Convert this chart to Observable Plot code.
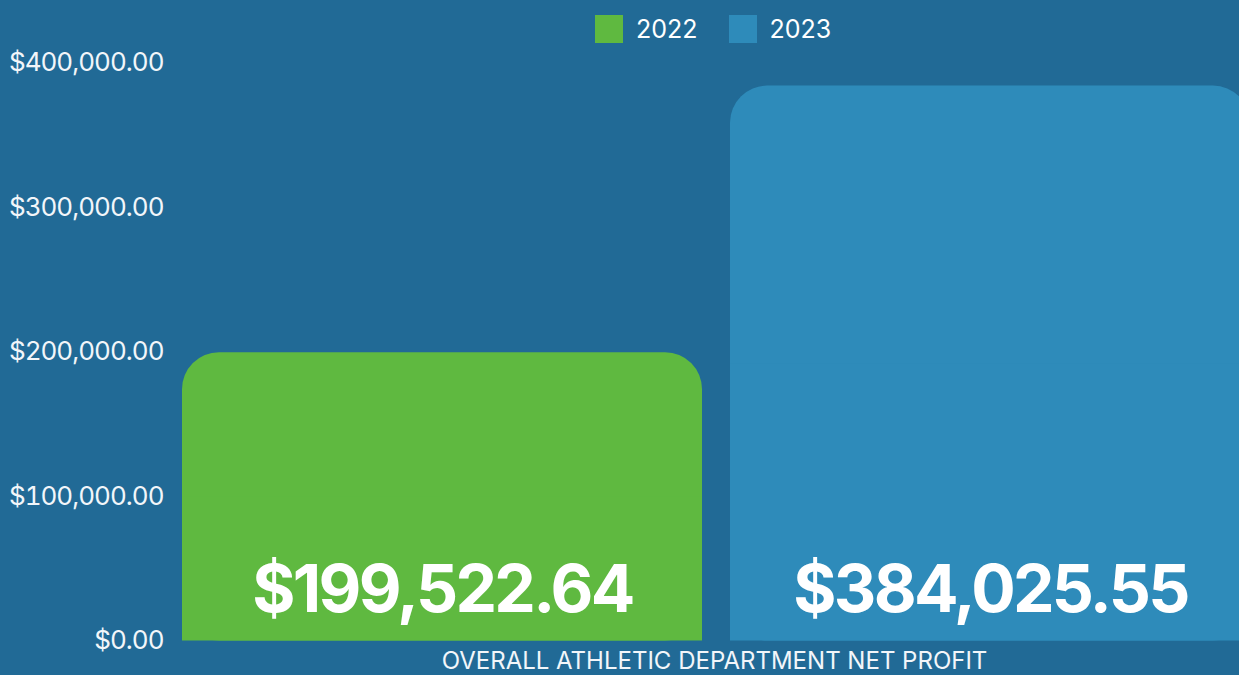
<!DOCTYPE html>
<html>
<head>
<meta charset="utf-8">
<script src="https://cdn.jsdelivr.net/npm/d3@7"></script>
<script src="https://cdn.jsdelivr.net/npm/@observablehq/plot@0.6"></script>
<style>
  html, body { margin: 0; padding: 0; overflow: hidden; }
  body { width: 1239px; height: 675px; background: #216a96; position: relative; font-family: Inter, "Liberation Sans", Arial, sans-serif; }
  #chart svg { overflow: hidden; display: block; }
  #chart g[aria-label="y-axis tick label"] { letter-spacing: -1px; }
  #chart g[font-size="66"] { letter-spacing: -2.7px; }
  #legend { position: absolute; top: 14px; left: 595px; display: flex; align-items: center; color: #ffffff; font-size: 25px; }
  .item { display: flex; align-items: center; margin-right: 31px; }
  .sw { width: 28px; height: 28px; margin-right: 13px; }
</style>
</head>
<body>
<div id="chart"></div>
<div id="legend"></div>
<script>
const years = ["2022", "2023"];
const values = [199522.64, 384025.55];
const colors = ["#5fb940", "#2e8bba"];
const yTicks = [0, 100000, 200000, 300000, 400000];
const xLabel = "OVERALL ATHLETIC DEPARTMENT NET PROFIT";

const data = years.map((y, i) => ({year: y, value: values[i], color: colors[i]}));
const fmt = d3.format("$,.2f");

const chart = Plot.plot({
  width: 1239,
  height: 675,
  marginLeft: 181,
  marginRight: 0,
  marginTop: 62.5,
  marginBottom: 34.5,
  style: {background: "transparent", fontFamily: "Inter, Liberation Sans, Arial, sans-serif", color: "#f2f6fa"},
  x: {domain: years, range: [181, 1251], paddingInner: 0.051, paddingOuter: 0, axis: null},
  y: {domain: [0, 400000], axis: null},
  marks: [
    Plot.barY(data, {x: "year", y: "value", fill: "color", rx: 37}),
    Plot.barY(data, {x: "year", y1: 0, y2: d => d.value / 2, fill: "color"}),
    Plot.axisY(yTicks, {anchor: "left", tickSize: 0, tickPadding: 18, tickFormat: fmt, fontSize: 26, fill: "#f2f6fa", label: null}),
    Plot.text(data, {x: "year", y: 0, text: d => fmt(d.value), dy: -50, fontSize: 66, fontWeight: "bold", fill: "#ffffff", textAnchor: "middle", lineAnchor: "middle"}),
    Plot.text([xLabel], {frameAnchor: "bottom", text: d => d, dx: 4, dy: 20, fontSize: 24, fill: "#f2f6fa", lineAnchor: "middle"})
  ]
});
document.getElementById("chart").appendChild(chart);

const legend = document.getElementById("legend");
data.forEach(d => {
  const it = document.createElement("div");
  it.className = "item";
  const sw = document.createElement("div");
  sw.className = "sw";
  sw.style.background = d.color;
  const t = document.createElement("span");
  t.textContent = d.year;
  it.appendChild(sw); it.appendChild(t);
  legend.appendChild(it);
});
</script>
</body>
</html>
